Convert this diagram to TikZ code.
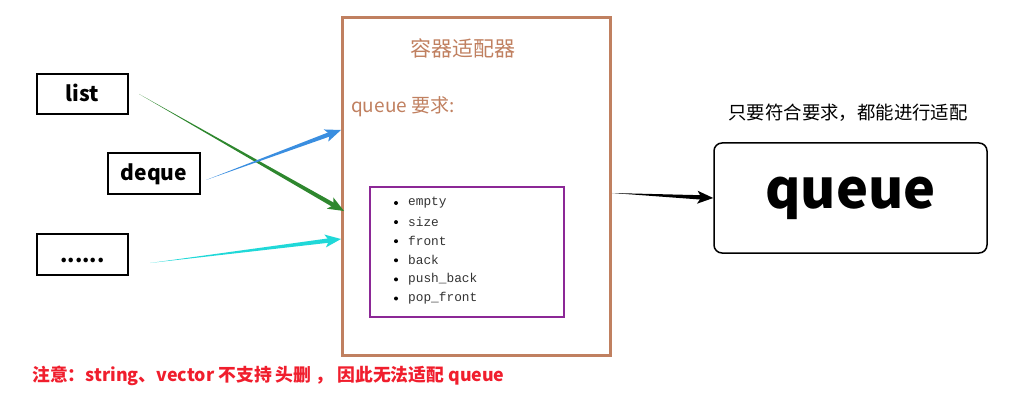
\documentclass[tikz,border=0pt]{standalone}
\usepackage{fontspec}
\setmainfont{Noto Sans CJK SC}
\newfontfamily\cjk{Noto Sans CJK SC}
\newfontfamily\monof{Liberation Mono}
\usetikzlibrary{calc,arrows.meta}
\definecolor{brownc}{RGB}{192,128,96}
\definecolor{purplec}{RGB}{140,40,150}
\definecolor{greenc}{RGB}{46,135,46}
\definecolor{bluec}{RGB}{58,142,224}
\definecolor{cyanc}{RGB}{32,216,216}
\definecolor{redc}{RGB}{240,30,45}
\definecolor{itemc}{RGB}{50,50,50}
\tikzset{
  srcbox/.style={draw=black, line width=2pt, inner sep=0pt, text height=18pt, text depth=3pt, font=\cjk\bfseries\fontsize{21}{24}\selectfont},
  itemtext/.style={anchor=west, inner sep=0pt, text=itemc, font=\monof\fontsize{12.8}{14}\selectfont},
}
% tapered arrow: #1 start, #2 end, #3 colour, #4 max half width
\newcommand{\taperarrow}[4]{%
  \fill[#3] (#1) -- ($(#2)!12pt!(#1)!#4!90:(#2)$) -- ($(#2)!12pt!(#1)!#4!-90:(#2)$) -- cycle;
  \fill[#3] (#2) -- ($(#2)!16pt!(#1)!6.5pt!90:(#2)$) -- ($(#2)!12pt!(#1)$) -- ($(#2)!16pt!(#1)!6.5pt!-90:(#2)$) -- cycle;
}
\begin{document}
\begin{tikzpicture}[x=1pt,y=-1pt]
\useasboundingbox (0,0) rectangle (1026,417);
% source boxes
\node[srcbox, minimum width=91pt, minimum height=40pt] (list) at (82.5,94) {list};
\node[srcbox, minimum width=92pt, minimum height=41pt] (deque) at (154,173.5) {deque};
\node[srcbox, minimum width=91pt, minimum height=41pt] (dots) at (82.5,254.5) {......};
% container
\node[draw=brownc, line width=3pt, minimum width=268pt, minimum height=337pt, inner sep=0pt] (cont) at (476,186.5) {};
\node[text=brownc, font=\cjk\fontsize{21}{24}\selectfont] (title) at (463,48) {容器适配器};
\node[text=brownc, font=\cjk\fontsize{19}{22}\selectfont, anchor=west, inner sep=0pt] (req) at (351,107) {queue 要求:};
\node[draw=purplec, line width=1.5pt, minimum width=194pt, minimum height=130pt, inner sep=0pt] (ops) at (467,252) {};
\foreach \t [count=\i] in {empty,size,front,back,push\_back,pop\_front} {
  \fill (396,{203+19.1*(\i-1)}) circle (2pt);
  \node[itemtext] (it\i) at (408,{203+19.1*(\i-1)}) {\t};
}
% coordinates for arrows
\coordinate (ls) at (139,94);
\coordinate (le) at (344,211);
\coordinate (ds) at (206,180);
\coordinate (de) at (341,130);
\coordinate (xs) at (150,263);
\coordinate (xe) at (341,239);
\taperarrow{ls}{le}{greenc}{2.2pt}
\taperarrow{ds}{de}{bluec}{2.2pt}
\taperarrow{xs}{xe}{cyanc}{2.2pt}
% target
\node[draw=black, line width=1.5pt, rounded corners=8pt, minimum width=273pt, minimum height=110pt, inner sep=0pt, font=\cjk\bfseries\fontsize{54}{60}\selectfont] (q) at (850.5,198) {queue};
\node[font=\cjk\fontsize{18.4}{22}\selectfont] (note) at (848,113) {只要符合要求，都能进行适配};
\coordinate (cs) at (612,193);
\taperarrow{cs}{q.west}{black}{2.2pt}
% red note
\node[anchor=west, inner sep=0pt, text=redc, font=\cjk\bfseries\fontsize{17.8}{20}\selectfont] (warn) at (32,376) {注意：string、vector 不支持 头删 ， 因此无法适配 queue};
\end{tikzpicture}
\end{document}
